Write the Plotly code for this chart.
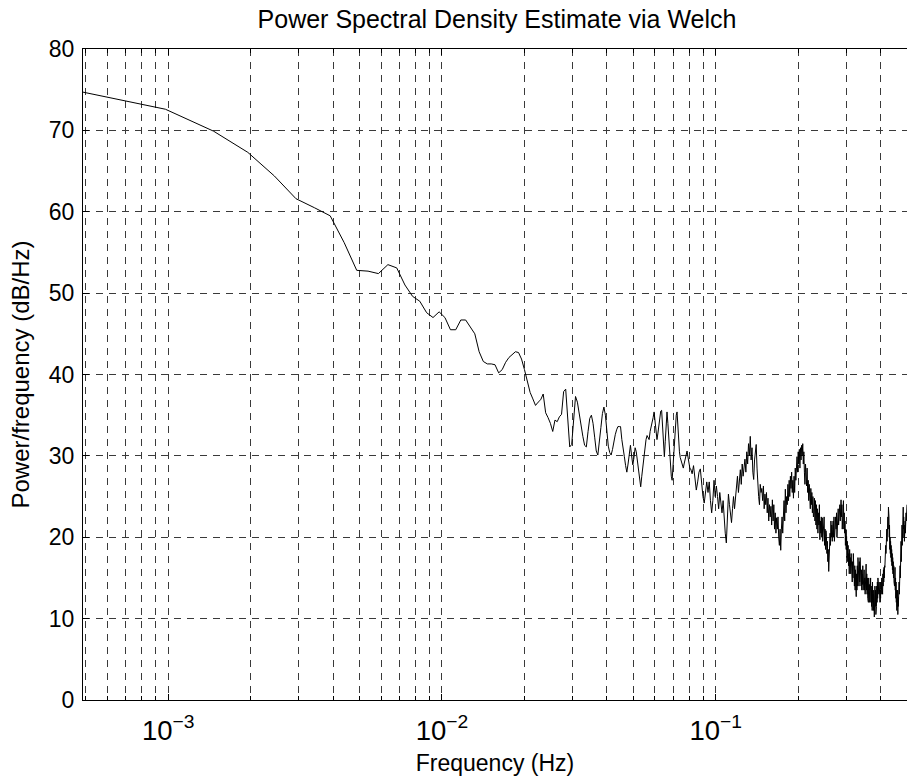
import numpy as np
import plotly.graph_objects as go

NFFT = 2048
FS = 1.0

# Welch PSD values (dB/Hz)
# bins 1..166 (every bin)
psd_low = [
    74.7, 72.6, 69.9, 67.3, 64.4, 61.6, 60.5, 59.5, 56.2, 52.8,
    52.7, 52.4, 53.5, 53.1, 51.0, 49.6, 49.0, 47.6, 47.0, 47.7,
    47.0, 45.5, 45.5, 46.7, 46.7, 45.9, 45.0, 42.8, 41.6, 41.3,
    41.3, 41.2, 40.2, 40.6, 41.5, 42.1, 42.5, 42.8, 42.7, 41.9,
    40.6, 39.0, 37.8, 37.0, 36.2, 36.6, 36.9, 37.6, 35.3, 34.7,
    34.0, 33.0, 34.4, 34.2, 34.8, 35.1, 37.9, 38.2, 34.5, 31.1,
    31.4, 35.0, 37.3, 36.6, 35.0, 33.8, 32.4, 31.3, 31.1, 33.0,
    34.6, 35.0, 34.0, 32.3, 30.6, 30.1, 31.5, 33.5, 35.2, 36.0,
    35.0, 33.0, 31.2, 30.4, 30.1, 30.8, 31.8, 32.6, 33.2, 33.6,
    33.6, 33.6, 32.0, 30.5, 29.9, 28.8, 28.0, 29.0, 30.6, 31.3,
    30.0, 28.9, 29.8, 31.0, 30.5, 29.4, 28.0, 27.0, 26.2, 27.5,
    28.8, 29.9, 31.0, 32.0, 32.5, 32.2, 32.0, 33.0, 33.5, 34.0,
    34.7, 35.4, 34.0, 33.0, 32.0, 32.8, 33.8, 34.8, 35.5, 35.6,
    34.0, 31.5, 29.9, 31.8, 33.8, 35.4, 34.0, 32.0, 30.0, 28.5,
    27.5, 27.0, 28.5, 30.5, 32.5, 34.0, 35.0, 35.4, 33.0, 31.5,
    30.5, 29.8, 29.5, 29.0, 28.8, 28.5, 29.0, 29.5, 30.0, 30.4,
    30.6, 30.0, 29.2, 28.7, 28.4, 28.4,
]

# bins 168, 170, ..., 1024 (every second bin)
psd_high = [
    27.8, 28.8, 27.0, 25.8, 26.8, 28.0, 28.4, 26.5, 25.0, 24.2,
    25.5, 26.8, 25.5, 26.8, 24.5, 23.0, 24.5, 27.0, 25.0, 26.3,
    25.0, 23.5, 25.5, 24.0, 23.0, 24.5, 22.0, 20.5, 19.3, 22.0,
    25.3, 24.0, 22.5, 21.8, 23.5, 25.0, 23.5, 25.0, 26.0, 27.5,
    25.5, 27.0, 28.3, 26.5, 29.0, 27.5, 28.5, 29.6, 28.0, 30.5,
    29.0, 31.5, 30.0, 32.4, 29.5, 31.0, 28.0, 27.1, 29.5, 30.5,
    31.4, 28.5, 26.0, 25.0, 24.0, 26.5, 25.5, 26.0, 24.5, 26.3,
    23.5, 25.3, 24.0, 25.5, 23.0, 24.8, 22.0, 24.0, 22.5, 23.8,
    21.5, 24.6, 22.0, 24.0, 21.0, 23.0, 20.5, 22.4, 21.0, 22.5,
    20.0, 19.0, 21.0, 18.4, 21.0, 22.5, 20.5, 23.5, 24.5, 22.0,
    25.9, 23.0, 25.0, 24.0, 26.5, 24.5, 27.0, 25.0, 27.5, 26.0,
    28.0, 25.5, 27.0, 24.8, 27.5, 25.5, 28.5, 27.0, 29.0, 29.9,
    28.0, 30.5, 29.0, 30.8, 28.5, 31.0, 29.5, 31.3, 30.0, 31.5,
    29.0, 30.5, 28.0, 26.5, 29.0, 27.0, 26.3, 28.5, 25.5, 27.0,
    24.5, 26.5, 25.4, 23.5, 26.0, 24.0, 25.5, 23.0, 25.0, 22.5,
    23.0, 24.8, 22.0, 24.5, 21.5, 24.0, 21.0, 23.5, 20.5, 23.0,
    21.5, 24.0, 19.7, 22.0, 20.5, 22.5, 20.0, 22.4, 19.5, 21.5,
    20.5, 22.5, 19.0, 21.0, 18.5, 20.8, 20.1, 18.0, 19.5, 17.0,
    18.5, 15.8, 19.0, 18.2, 20.5, 19.0, 22.0, 20.0, 21.5, 19.5,
    21.0, 22.0, 20.0, 22.5, 19.5, 21.5, 20.0, 22.5, 21.0, 23.0,
    20.0, 22.5, 21.0, 23.5, 21.5, 23.0, 22.0, 24.0, 22.0, 23.5,
    24.6, 22.5, 24.0, 21.0, 23.8, 22.0, 24.5, 21.0, 23.0, 20.5,
    22.0, 19.0, 21.0, 18.5, 20.1, 17.5, 19.5, 17.0, 19.0, 16.5,
    18.0, 15.5, 18.5, 16.4, 17.5, 15.5, 18.0, 15.2, 17.5, 14.5,
    17.0, 15.0, 18.0, 15.2, 17.5, 14.0, 16.5, 13.5, 16.0, 14.0,
    12.7, 15.5, 13.5, 16.5, 14.0, 17.5, 15.0, 16.5, 14.0, 17.0,
    14.5, 17.5, 15.5, 16.5, 14.0, 16.0, 13.5, 15.5, 14.2, 16.5,
    13.5, 15.5, 14.0, 16.0, 13.5, 15.0, 13.0, 16.5, 14.0, 16.7,
    13.5, 15.5, 13.0, 15.0, 12.5, 14.5, 12.0, 15.0, 13.5, 14.2,
    12.0, 14.0, 12.5, 15.0, 12.0, 14.0, 11.5, 13.5, 11.0, 14.5,
    12.0, 13.0, 11.0, 13.5, 11.5, 10.2, 12.5, 14.0, 11.5, 13.5,
    10.5, 13.0, 11.5, 14.0, 12.0, 14.5, 12.5, 15.0, 13.0, 15.0,
    13.0, 14.5, 12.5, 14.0, 12.0, 13.5, 12.5, 14.5, 13.0, 13.5,
    15.0, 13.5, 14.5, 13.0, 15.5, 14.0, 16.0, 14.5, 16.3, 15.0,
    16.5, 16.3, 18.0, 17.0, 19.0, 18.0, 20.0, 19.0, 21.0, 19.5,
    22.0, 20.5, 22.5, 21.0, 23.7, 21.0, 22.5, 20.0, 21.5, 18.5,
    20.0, 18.0, 19.5, 17.5, 19.0, 17.0, 18.5, 16.5, 18.0, 16.0,
    17.5, 15.5, 17.0, 15.0, 16.5, 14.5, 16.0, 14.0, 15.5, 16.3,
    13.5, 15.0, 12.5, 14.5, 12.0, 13.5, 11.0, 13.0, 11.5, 13.5,
    10.5, 12.6, 11.5, 13.5, 12.0, 14.5, 13.0, 15.5, 14.0, 16.5,
    15.0, 18.0, 16.0, 19.5, 17.0, 20.5, 18.0, 21.5, 19.0, 23.3,
    20.5, 22.0, 23.7, 21.0, 22.5, 20.0, 21.5, 19.5, 21.0, 20.0,
    22.0, 20.5, 22.5, 21.0, 23.0, 22.0, 23.5, 22.5, 24.0,
]

bins_low = list(range(1, 1 + len(psd_low)))
bins_high = list(range(168, 168 + 2 * len(psd_high), 2))

freq = np.array(bins_low + bins_high, dtype=float) * FS / NFFT
psd_db = np.array(psd_low + psd_high)

TITLE = "Power Spectral Density Estimate via Welch"
XLABEL = "Frequency (Hz)"
YLABEL = "Power/frequency (dB/Hz)"

FONT = "Liberation Sans, Arial, Helvetica, sans-serif"
GRID_COLOR = "#3a3a3a"
GRID_DASH = "7px,6px"

fig = go.Figure()
fig.add_trace(go.Scatter(
    x=freq, y=psd_db, mode="lines",
    line=dict(color="black", width=1),
    showlegend=False, hoverinfo="x+y",
))

fig.update_layout(
    width=907, height=782,
    margin=dict(l=83, r=0, t=49, b=82),
    paper_bgcolor="white", plot_bgcolor="white",
    font=dict(family=FONT, color="black", size=23),
    title=dict(text=TITLE, x=0.548, xanchor="center", y=1 - 19 / 782,
               yanchor="middle", yref="container",
               font=dict(size=25, family=FONT, color="black")),
)

fig.update_xaxes(
    type="log",
    range=[np.log10(FS / NFFT), np.log10(FS / 2)],
    dtick=1, exponentformat="power",
    showgrid=True, gridcolor=GRID_COLOR, griddash=GRID_DASH, gridwidth=1,
    ticks="inside", ticklen=6, tickcolor="black",
    showline=True, linecolor="black", linewidth=1, mirror="ticks",
    zeroline=False,
    tickfont=dict(size=22, family=FONT, color="black"),
    ticklabelstandoff=7,
    minor=dict(dtick="D1", showgrid=True, gridcolor=GRID_COLOR,
               griddash=GRID_DASH, gridwidth=1,
               ticks="inside", ticklen=4, tickcolor="black"),
    title=dict(text=XLABEL, font=dict(size=23, family=FONT, color="black"),
               standoff=9),
)

fig.update_yaxes(
    range=[0, 80], dtick=10,
    showgrid=True, gridcolor=GRID_COLOR, griddash=GRID_DASH, gridwidth=1,
    ticks="inside", ticklen=6, tickcolor="black",
    showline=True, linecolor="black", linewidth=1, mirror=False,
    zeroline=False,
    tickfont=dict(size=23, family=FONT, color="black"),
    ticklabelstandoff=3,
    title=dict(text=YLABEL, font=dict(size=24, family=FONT, color="black"),
               standoff=12),
)

fig.write_html("out.html")
